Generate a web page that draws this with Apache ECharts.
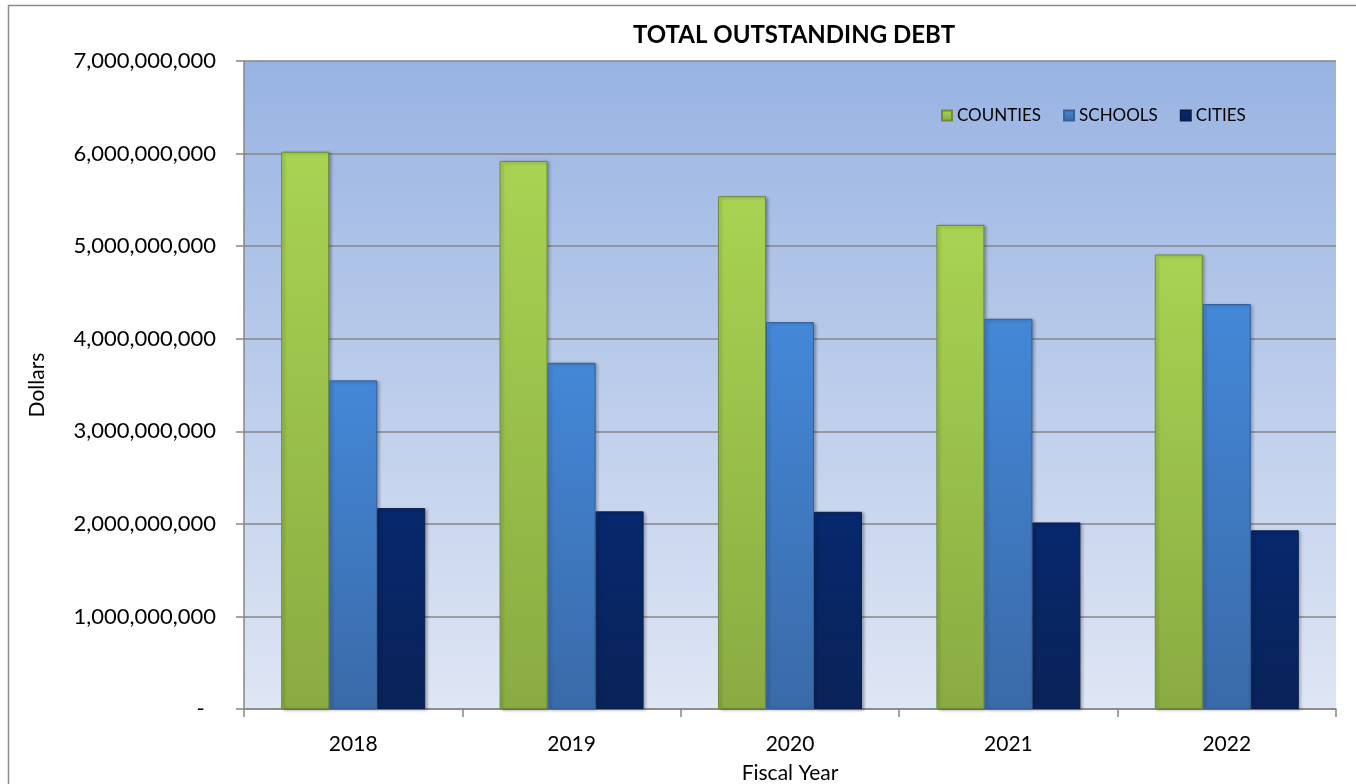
<!DOCTYPE html>
<html>
<head>
<meta charset="utf-8">
<script src="https://cdn.jsdelivr.net/npm/echarts@6/dist/echarts.min.js"></script>
<style>
  html, body { margin: 0; padding: 0; background: #fff; }
  #chart { width: 1356px; height: 784px; }
</style>
</head>
<body>
<div id="chart"></div>
<script>
const years = ['2018', '2019', '2020', '2021', '2022']
const counties = [6020000000, 5920000000, 5540000000, 5230000000, 4910000000]
const schools = [3550000000, 3740000000, 4180000000, 4215000000, 4375000000]
const cities = [2170000000, 2135000000, 2130000000, 2015000000, 1930000000]

const font = 'Lato, "Open Sans", sans-serif'

const vGrad = (top, bottom) => ({
  type: 'linear', x: 0, y: 0, x2: 0, y2: 1,
  colorStops: [
    { offset: 0, color: top },
    { offset: 1, color: bottom },
  ],
})

const barSeries = (name, data, top, bottom, border) => ({
  name,
  type: 'bar',
  data,
  barWidth: 48,
  barGap: '0%',
  itemStyle: {
    color: vGrad(top, bottom),
    borderColor: border,
    borderWidth: 1,
    shadowColor: 'rgba(0, 0, 0, 0.3)',
    shadowBlur: 3,
    shadowOffsetX: 2,
    shadowOffsetY: 1,
  },
})

const chart = echarts.init(document.getElementById('chart'), null, { renderer: 'canvas' })
chart.setOption({
  animation: false,
  backgroundColor: '#fff',
  textStyle: { fontFamily: font },
  title: {
    text: 'TOTAL OUTSTANDING DEBT',
    left: 789,
    textAlign: 'center',
    top: 18,
    textStyle: { fontSize: 24, fontWeight: 'bold', color: '#000', fontFamily: font },
  },
  graphic: [
    {
      type: 'rect',
      shape: { x: 8.5, y: 5.5, width: 1400, height: 800 },
      style: { fill: 'none', stroke: '#8c8c8c', lineWidth: 1.5 },
      silent: true,
    },
  ],
  legend: {
    left: 936,
    top: 102,
    icon: 'rect',
    itemWidth: 10,
    itemHeight: 10,
    itemGap: 22,
    textStyle: { fontSize: 17, color: '#000', fontFamily: font },
    data: ['COUNTIES', 'SCHOOLS', 'CITIES'],
  },
  grid: {
    left: 244,
    right: 20,
    top: 61,
    bottom: 75,
    outerBoundsMode: 'none',
    show: true,
    borderWidth: 0,
    backgroundColor: vGrad('#98b3e2', '#dfe6f4'),
  },
  xAxis: {
    type: 'category',
    data: years,
    name: 'Fiscal Year',
    nameLocation: 'middle',
    nameGap: 54,
    nameTextStyle: { fontSize: 21, color: '#000', fontFamily: font },
    axisLine: { lineStyle: { color: '#868686', width: 1.5 } },
    axisTick: { show: true, length: 8, lineStyle: { color: '#868686', width: 1.5 } },
    axisLabel: { fontSize: 21, color: '#000', margin: 25, fontFamily: font },
  },
  yAxis: {
    type: 'value',
    min: 0,
    max: 7000000000,
    interval: 1000000000,
    name: 'Dollars',
    nameLocation: 'middle',
    nameGap: 196,
    nameTextStyle: { fontSize: 21, color: '#000', fontFamily: font },
    axisLine: { show: true, lineStyle: { color: '#868686', width: 1.5 } },
    axisTick: { show: true, length: 8, lineStyle: { color: '#868686', width: 1.5 } },
    splitLine: { lineStyle: { color: '#868686', width: 1.5 } },
    axisLabel: {
      fontSize: 22,
      color: '#000',
      margin: 28,
      fontFamily: font,
      formatter: (v) => (v === 0 ? '-  ' : v.toLocaleString('en-US')),
    },
  },
  series: [
    barSeries('COUNTIES', counties, '#a8d352', '#8aab42', '#6f8a3a'),
    barSeries('SCHOOLS', schools, '#4488d8', '#3a6aa8', '#35609a'),
    barSeries('CITIES', cities, '#07286e', '#0a2358', '#0a1f4c'),
  ],
})
</script>
</body>
</html>
